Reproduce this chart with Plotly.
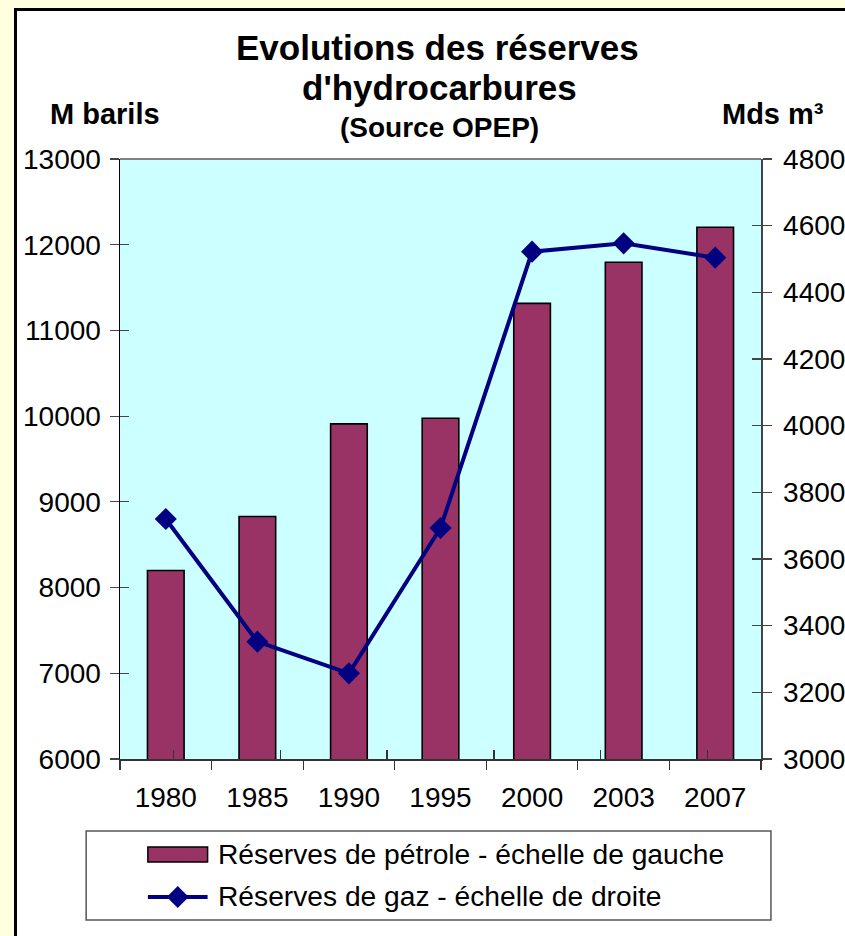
import plotly.graph_objects as go

# ---- data ----
years = ["1980", "1985", "1990", "1995", "2000", "2003", "2007"]
oil_reserves = [8200, 8830, 9910, 9975, 11316, 11795, 12203]   # M barils (left)
gas_reserves = [3720, 3352, 3257, 3693, 4522, 4547, 4504]       # Mds m3 (right)
oil_name = "Réserves de pétrole - échelle de gauche"
gas_name = "Réserves de gaz - échelle de droite"
title_lines = ["Evolutions des réserves", "d'hydrocarbures"]
subtitle = "(Source OPEP)"
left_title = "M barils"
right_title = "Mds m³"

# ---- geometry: target screen pixels, with a horizontal correction factor ----
SX = 1.0144


def sx(x):
    return x * SX


W, H = round(845 * SX), 936
L, R, T, B = sx(118), sx(762), 159, 759
FONT = "Liberation Sans, Arial, sans-serif"
BAR_COLOR = "#993366"
LINE_COLOR = "#000080"


def px(x):
    return (sx(x) - L) / (R - L)


def py(y):
    return (B - y) / (B - T)


fig = go.Figure()
fig.add_trace(go.Bar(x=years, y=oil_reserves, name=oil_name,
                     marker=dict(color=BAR_COLOR, line=dict(color="black", width=1.6)),
                     yaxis="y", showlegend=False))
fig.add_trace(go.Scatter(x=years, y=gas_reserves, name=gas_name, mode="lines+markers",
                         line=dict(color=LINE_COLOR, width=4),
                         marker=dict(symbol="diamond", size=17, color=LINE_COLOR),
                         yaxis="y2", showlegend=False))
# invisible helpers for the inner half of the crossing ticks
fig.add_trace(go.Scatter(x=years, y=oil_reserves, xaxis="x2", yaxis="y3", mode="lines",
                         line=dict(width=0, color="rgba(0,0,0,0)"), hoverinfo="skip", showlegend=False))
fig.add_trace(go.Scatter(x=years, y=gas_reserves, xaxis="x2", yaxis="y4", mode="lines",
                         line=dict(width=0, color="rgba(0,0,0,0)"), hoverinfo="skip", showlegend=False))

tickfont = dict(family=FONT, size=28, color="black")
fig.update_layout(
    width=W, height=H,
    margin=dict(l=L, r=W - R, t=T, b=H - B, pad=0),
    paper_bgcolor="#FFFFE0",
    plot_bgcolor="rgba(0,0,0,0)",
    bargap=0.6,
    showlegend=False,
    hovermode=False,
    xaxis=dict(type="category", tickson="boundaries", ticks="outside", ticklen=9,
               tickcolor="#333333", tickwidth=1.2, showline=True, linecolor="#333333",
               linewidth=1.5, tickfont=tickfont, ticklabelstandoff=13, showgrid=False,
               zeroline=False, fixedrange=True),
    xaxis2=dict(type="category", overlaying="x", anchor="y3", side="bottom",
                tickson="boundaries", ticks="inside", ticklen=9, tickcolor="#333333",
                tickwidth=1.2, showticklabels=False, showline=False, showgrid=False,
                zeroline=False),
    yaxis=dict(range=[6000, 13000], dtick=1000, tickformat="d", ticks="outside", ticklen=9,
               tickcolor="#444444", tickwidth=1.2, showline=True, linecolor="black",
               linewidth=1.5, tickfont=tickfont, ticklabelstandoff=3, showgrid=False,
               zeroline=False),
    yaxis2=dict(range=[3000, 4800], dtick=200, tickformat="d", overlaying="y", side="right",
                ticks="outside", ticklen=9, tickcolor="#444444", tickwidth=1.2,
                showline=True, linecolor="#444444", linewidth=1.5, tickfont=tickfont,
                ticklabelstandoff=6, showgrid=False, zeroline=False),
    yaxis3=dict(range=[6000, 13000], dtick=1000, overlaying="y", anchor="x2", side="left",
                ticks="inside", ticklen=9, tickcolor="#444444", tickwidth=1.2,
                showticklabels=False, showline=False, showgrid=False, zeroline=False),
    yaxis4=dict(range=[3000, 4800], dtick=200, overlaying="y", anchor="x2", side="right",
                ticks="inside", ticklen=9, tickcolor="#444444", tickwidth=1.2,
                showticklabels=False, showline=False, showgrid=False, zeroline=False),
)

shapes = [
    # white frame with black border
    dict(type="rect", xref="paper", yref="paper", x0=px(13), x1=px(900), y0=py(980), y1=py(9.5),
         fillcolor="white", line=dict(color="black", width=3), layer="below"),
    # plot area
    dict(type="rect", xref="paper", yref="paper", x0=0, x1=1, y0=0, y1=1,
         fillcolor="#CCFFFF", line=dict(width=0), layer="below"),
    # top border of plot area
    dict(type="line", xref="paper", yref="paper", x0=0, x1=1, y0=1, y1=1,
         line=dict(color="#808080", width=2), layer="below"),
    # legend box
    dict(type="rect", xref="paper", yref="paper", x0=px(84), x1=px(772), y0=py(920), y1=py(831),
         fillcolor="white", line=dict(color="#555555", width=1.5), layer="below"),
    # legend swatch bar
    dict(type="rect", xref="paper", yref="paper", x0=px(146), x1=px(206), y0=py(862), y1=py(847),
         fillcolor=BAR_COLOR, line=dict(color="black", width=1.5)),
    # legend line
    dict(type="line", xref="paper", yref="paper", x0=px(146), x1=px(206), y0=py(897), y1=py(897),
         line=dict(color=LINE_COLOR, width=4)),
    # legend diamond
    dict(type="path", xref="paper", yref="paper",
         path=f"M {px(176)} {py(886)} L {px(187)} {py(897)} L {px(176)} {py(908)} L {px(165)} {py(897)} Z",
         fillcolor=LINE_COLOR, line=dict(color=LINE_COLOR, width=0)),
]
fig.update_layout(shapes=shapes)

ann = [
    dict(text="<b>" + title_lines[0] + "</b>", x=px(437), y=py(48),
         font=dict(family=FONT, size=35, color="black")),
    dict(text="<b>" + title_lines[1] + "</b>", x=px(439), y=py(88),
         font=dict(family=FONT, size=35, color="black")),
    dict(text="<b>" + subtitle + "</b>", x=px(439), y=py(127),
         font=dict(family=FONT, size=28, color="black")),
    dict(text="<b>" + left_title + "</b>", x=px(103), y=py(114),
         font=dict(family=FONT, size=29, color="black")),
    dict(text="<b>" + right_title + "</b>", x=px(774), y=py(114),
         font=dict(family=FONT, size=29, color="black")),
]
for a in ann:
    a.update(xref="paper", yref="paper", showarrow=False, xanchor="center", yanchor="middle")
ann.append(dict(text=oil_name, x=px(214), y=py(854), xref="paper", yref="paper", showarrow=False,
                xanchor="left", yanchor="middle", font=dict(family=FONT, size=28.2, color="black")))
ann.append(dict(text=gas_name, x=px(214), y=py(896), xref="paper", yref="paper", showarrow=False,
                xanchor="left", yanchor="middle", font=dict(family=FONT, size=28.2, color="black")))
fig.update_layout(annotations=ann)

fig.write_html(
    "out.html",
    config={"displayModeBar": False, "staticPlot": True},
    post_script="document.body.style.margin='0';document.body.style.overflow='hidden';",
)
